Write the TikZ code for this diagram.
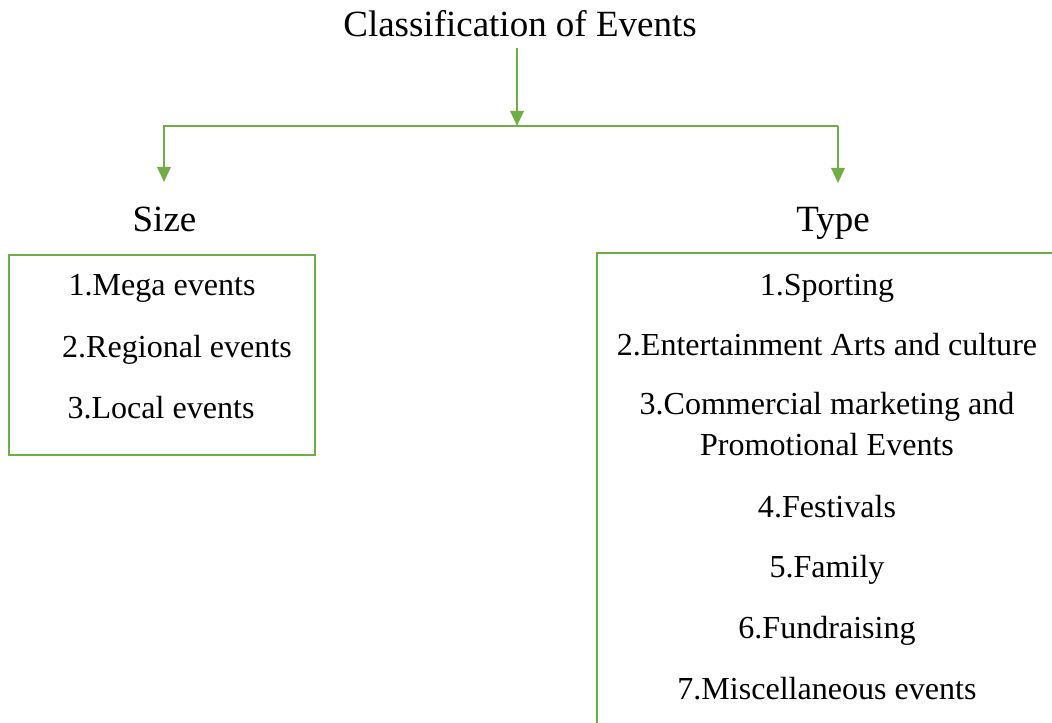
\documentclass[tikz,border=0pt]{standalone}
\usepackage{fontspec}
\setmainfont{Liberation Serif}
\usepackage{tikz}
\usetikzlibrary{arrows.meta,positioning}
\definecolor{leafgreen}{RGB}{112,173,71}

\begin{document}
\begin{tikzpicture}[x=0.025cm,y=-0.025cm,
  heading/.style={anchor=base,inner sep=0pt,font=\fontsize{26.3}{32}\selectfont},
  item/.style={anchor=base,inner sep=0pt,align=center,font=\fontsize{22.8}{28.5}\selectfont},
  link/.style={leafgreen,line width=1.6pt},
  arr/.style={link,-{Triangle[length=3.8mm,width=3.4mm]}},
  frame/.style={draw=leafgreen,line width=1.6pt}
]
\useasboundingbox (0,0) rectangle (1052,723);
\clip (0,0) rectangle (1052,723);

% headings
\node[heading] (title) at (520,36) {Classification of Events};
\node[heading] (size) at (164.5,231) {Size};
\node[heading] (type) at (833,231) {Type};

% connectors
\coordinate (top) at (517,48);
\coordinate (split) at (517,126);
\coordinate (lturn) at (164,126);
\coordinate (rturn) at (838,126);
\coordinate (lend) at (164,182);
\coordinate (rend) at (838,183);
\draw[arr] (top) -- (split);
\draw[arr] (rturn) -- (lturn) -- (lend);
\draw[arr] (rturn) -- (rend);

% size box
\node[frame,minimum width=7.65cm,minimum height=5cm,inner sep=0pt] (sizebox) at (162,355) {};
\node[item] (s1) at (162,295) {1.Mega events};
\node[item] (s2) at (177,357) {2.Regional events};
\node[item] (s3) at (161,418) {3.Local events};

% type box (runs off the page)
\draw[frame] (1060,253) -- (597,253) -- (597,730);
\node[item] (t1) at (827,295) {1.Sporting};
\node[item] (t2) at (827,355) {2.Entertainment Arts and culture};
\node[item] (t3) at (827,455) {3.Commercial marketing and\\Promotional Events};
\node[item] (t4) at (827,517) {4.Festivals};
\node[item] (t5) at (827,577) {5.Family};
\node[item] (t6) at (827,638) {6.Fundraising};
\node[item] (t7) at (827,699) {7.Miscellaneous events};
\end{tikzpicture}
\end{document}
